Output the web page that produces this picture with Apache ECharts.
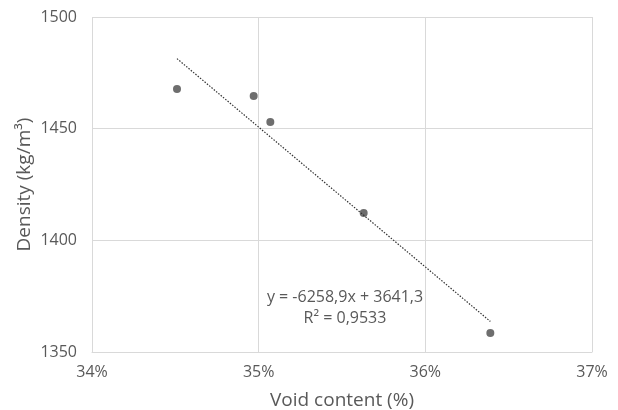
<!DOCTYPE html>
<html><head><meta charset="utf-8">
<script src="https://cdn.jsdelivr.net/npm/echarts@6/dist/echarts.min.js"></script>
<style>html,body{margin:0;padding:0;background:#fff}#c{width:618px;height:410px}</style>
</head><body><div id="c"></div>
<script>
var voidContent = [0.3451, 0.3497, 0.3507, 0.3563, 0.3639];
var density = [1467.8, 1464.6, 1453.0, 1412.2, 1358.5];
var xTicks = ['34%', '35%', '36%', '37%'];
var yTicks = ['1350', '1400', '1450', '1500'];
var trendSlope = -6258.9;
var trendIntercept = 3641.3;
var eqLines = ['y = -6258,9x + 3641,3', 'R² = 0,9533'];

var pts = voidContent.map(function (v, i) { return [v, density[i]]; });
var xMin = Math.min.apply(null, voidContent), xMax = Math.max.apply(null, voidContent);
var trend = [[xMin, trendSlope * xMin + trendIntercept], [xMax, trendSlope * xMax + trendIntercept]];

var font = 'Open Sans';
var gray = '#595959';
var chart = echarts.init(document.getElementById('c'));
chart.setOption({
  animation: false,
  grid: { left: 92, right: 26, top: 17, bottom: 58, containLabel: false, outerBoundsMode: 'none' },
  xAxis: {
    type: 'value', min: 0.34, max: 0.37, interval: 0.01,
    name: 'Void content (%)', nameLocation: 'middle', nameGap: 39, nameMoveOverlap: false,
    nameTextStyle: { fontFamily: font, fontSize: 19, color: gray },
    axisLine: { show: true, lineStyle: { color: '#d9d9d9' } },
    axisTick: { show: false },
    axisLabel: { fontFamily: font, fontSize: 16, color: gray, margin: 12,
      formatter: function (v) { var i = Math.round((v - 0.34) * 100); return xTicks[i]; } },
    splitLine: { show: true, lineStyle: { color: '#d9d9d9' } }
  },
  yAxis: {
    type: 'value', min: Number(yTicks[0]), max: Number(yTicks[yTicks.length - 1]), interval: 50,
    name: 'Density (kg/m³)', nameLocation: 'middle', nameGap: 58, nameMoveOverlap: false,
    nameTextStyle: { fontFamily: font, fontSize: 19, color: gray },
    axisLine: { show: false },
    axisTick: { show: false },
    axisLabel: { fontFamily: font, fontSize: 16, color: gray, margin: 15,
      formatter: function (v) { var i = Math.round((v - 1350) / 50); return yTicks[i]; } },
    splitLine: { show: true, lineStyle: { color: '#d9d9d9' } }
  },
  graphic: [
    { type: 'text', x: 345, y: 297, style: { text: eqLines[0], font: '16px "' + font + '"', fill: gray, align: 'center', verticalAlign: 'middle' } },
    { type: 'text', x: 345, y: 318, style: { text: eqLines[1], font: '16px "' + font + '"', fill: gray, align: 'center', verticalAlign: 'middle' } }
  ],
  series: [
    { type: 'line', data: trend, symbol: 'none', silent: true,
      lineStyle: { color: '#333333', width: 1.2, type: [1.5, 1.5] } },
    { type: 'scatter', data: pts, symbol: 'circle', symbolSize: 8,
      itemStyle: { color: '#4a4a4a' } }
  ]
});
</script></body></html>
